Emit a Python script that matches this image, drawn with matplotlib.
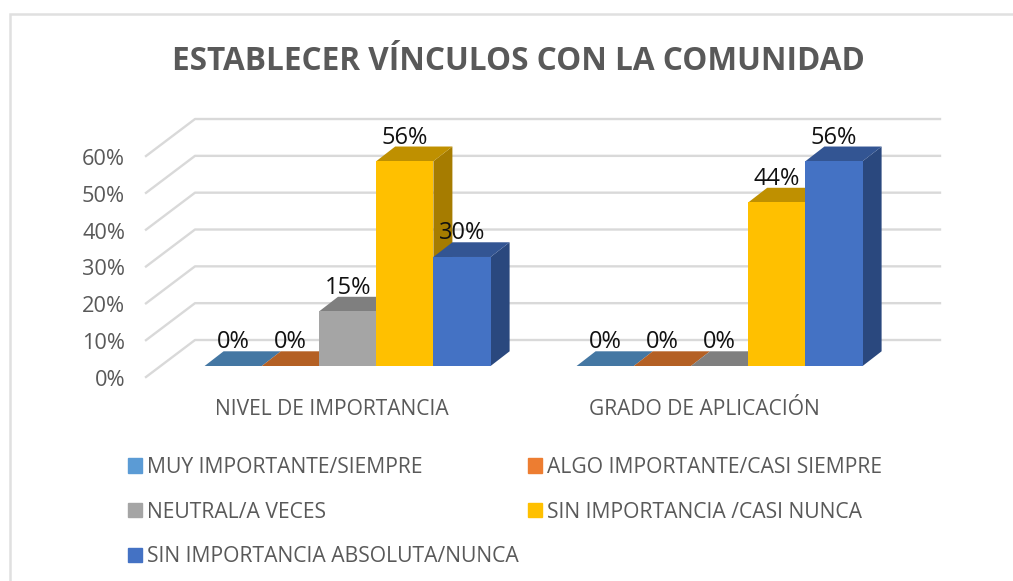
import matplotlib
matplotlib.use("Agg")
import matplotlib.pyplot as plt
from matplotlib.patches import Patch, Rectangle
from matplotlib.transforms import ScaledTranslation

W, H = 1013, 581
plt.rcParams['font.family'] = ['Open Sans', 'DejaVu Sans']

title = "ESTABLECER VÍNCULOS CON LA COMUNIDAD"
categories = ["NIVEL DE IMPORTANCIA", "GRADO DE APLICACIÓN"]
series_names = ["MUY IMPORTANTE/SIEMPRE", "ALGO IMPORTANTE/CASI SIEMPRE",
                "NEUTRAL/A VECES", "SIN IMPORTANCIA /CASI NUNCA",
                "SIN IMPORTANCIA ABSOLUTA/NUNCA"]
muy = [0.0, 0.0]
algo = [0.0, 0.0]
neutral = [14.8, 0.0]
sin_imp = [55.6, 44.4]
sin_abs = [29.6, 55.6]
y_ticks = [0, 10, 20, 30, 40, 50, 60]

front = ['#5B9BD5', '#ED7D31', '#A5A5A5', '#FFC000', '#4472C4']
top = ['#4477A3', '#B46024', '#7F7F7F', '#BF9000', '#335593']
side = ['#3A6A94', '#A3561F', '#6E6E6E', '#A67C00', '#2A487E']
GRID = '#D9D9D9'
TXT = '#595959'

fig = plt.figure(figsize=(W / 100, H / 100), dpi=100, facecolor='white')
fig.add_artist(Rectangle((9.5 / W, -0.02), 1.1, 1 - 14 / H + 0.02, transform=fig.transFigure,
                         fill=False, edgecolor='#E0E0E0', lw=1.8))

SLOT = 372.0      # px per category
PXY = 3.683       # px per percent
ax = fig.add_axes([146 / W, (H - 377) / H, 794 / W, 70 * PXY / H])
ax.set_xlim(-0.5, -0.5 + 794 / SLOT)
ax.set_ylim(0, 70)
ax.patch.set_alpha(0)
for s in ax.spines.values():
    s.set_visible(False)

# walls
wall_dx = 49 / SLOT
wall_dy = 37 / PXY
x0, x1 = ax.get_xlim()
for t in y_ticks:
    ax.plot([x0, x0 + wall_dx, x1], [t, t + wall_dy, t + wall_dy], color=GRID, lw=1.7,
            solid_joinstyle='round', clip_on=False, zorder=1)

# bars
bw = 57.2 / SLOT
off = 15.6 / SLOT
dx = 19 / SLOT
dy = 14.7 / PXY
lift = 11 / PXY
data = [muy, algo, neutral, sin_imp, sin_abs]
z = 2
for c in range(len(categories)):
    for i, vals in enumerate(data):
        v = vals[c]
        xc = c + off + (i - 2) * bw
        l, r = xc - bw / 2, xc + bw / 2
        b, t = lift, lift + v
        ax.fill([r, r + dx, r + dx, r], [b, b + dy, t + dy, t], color=side[i], lw=0, zorder=z)
        ax.fill([l, l + dx, r + dx, r], [t, t + dy, t + dy, t], color=top[i], lw=0, zorder=z + .1)
        ax.bar(xc, v, bw, bottom=b, color=front[i], lw=0, zorder=z + .2)
        ax.text(xc, t + dy + 9 / PXY, f"{v:.0f}%", ha='center', va='center',
                fontsize=17, color='#111111', zorder=50)
        z += 1

ax.set_yticks(y_ticks, [f"{t}%" for t in y_ticks])
ax.set_xticks(range(len(categories)), categories)
ax.tick_params(axis='y', length=0, pad=15, labelsize=15.7, labelcolor=TXT)
ax.tick_params(axis='x', length=0, pad=16, labelsize=15.1, labelcolor=TXT)
for lab in ax.get_yticklabels():
    lab.set_transform(lab.get_transform() + ScaledTranslation(0, -0.7 / 72, fig.dpi_scale_trans))

fig.text(518 / W, 1 - 62 / H, title, ha='center', va='center', fontsize=22.7,
         fontweight='bold', color=TXT)

order = [0, 2, 4, 1, 3]
handles = [Patch(color=front[i], label=series_names[i]) for i in order]
fig.legend(handles=handles, loc='upper left', bbox_to_anchor=(128 / W, 1 - 457 / H),
           ncol=2, frameon=False, fontsize=15.2, labelcolor=TXT, borderpad=0, borderaxespad=0,
           handlelength=0.67, handleheight=0.67, handletextpad=0.24, columnspacing=0.42,
           labelspacing=1.12)

fig.savefig("out.png", dpi=100)
